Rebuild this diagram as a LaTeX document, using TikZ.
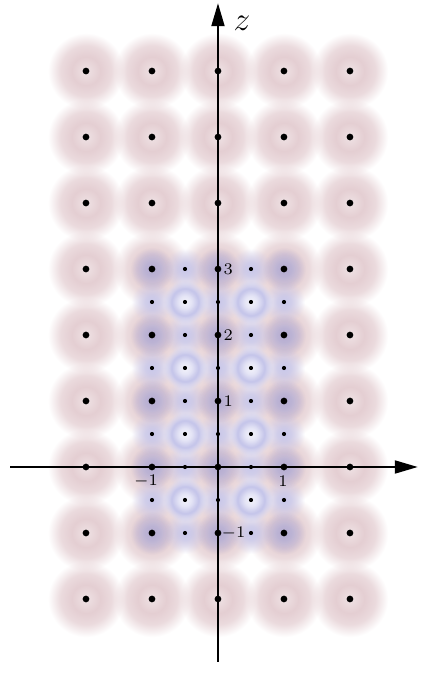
\documentclass[tikz,border=0pt]{standalone}
\usepackage{amsmath}
\usepackage{tikz}
\usetikzlibrary{arrows.meta, fadings}

\definecolor{pinkglow}{RGB}{228,206,210}
\definecolor{blueglow}{RGB}{196,196,234}
\definecolor{mauveglow}{RGB}{160,145,185}

% soft glows (white = opaque, black = clear)
\pgfdeclareradialshading{softdisc}{\pgfpointorigin}{color(0bp)=(white!60!black); color(9bp)=(white); color(16bp)=(white!75!black); color(24bp)=(black); color(50bp)=(black)}
\pgfdeclarefading{softdisc}{\pgfuseshading{softdisc}}
\pgfdeclareradialshading{fulldisc}{\pgfpointorigin}{color(0bp)=(white); color(8bp)=(white!80!black); color(24bp)=(black); color(50bp)=(black)}
\pgfdeclarefading{fulldisc}{\pgfuseshading{fulldisc}}
\pgfdeclareradialshading{ringdisc}{\pgfpointorigin}{color(0bp)=(white!20!black); color(7bp)=(white!45!black); color(15bp)=(white); color(24bp)=(black); color(50bp)=(black)}
\pgfdeclarefading{ringdisc}{\pgfuseshading{ringdisc}}

\begin{document}
\begin{tikzpicture}[
    outerglow/.style={fill=pinkglow, path fading=softdisc},
    innerglow/.style={fill=blueglow, fill opacity=0.9, path fading=fulldisc},
    ringglow/.style={fill=blueglow, path fading=ringdisc},
    siteglow/.style={fill=mauveglow, fill opacity=0.5, path fading=fulldisc},
    axis/.style={line width=1.2pt, -{Triangle[length=10pt, width=5.5pt]}},
    bigdot/.style={circle, fill=black, inner sep=0pt, minimum size=2.9pt},
    smalldot/.style={circle, fill=black, inner sep=0pt, minimum size=1.8pt},
    tick/.style={inner sep=0.5pt, font=\fontsize{7.3}{8}\selectfont}
]
\useasboundingbox (-3.303,-3.182) rectangle (3.076,7.076);

% 1. Glows
\foreach \x in {-2,...,2}
  \foreach \z in {-2,...,6}
    \fill[outerglow] (\x,\z) circle (0.6);

\foreach \i in {-2,0,2}
  \foreach \j in {-2,...,6}
    \fill[innerglow] (\i/2,\j/2) circle (0.33);
\foreach \i in {-1,1}
  \foreach \j in {-2,0,...,6}
    \fill[innerglow] (\i/2,\j/2) circle (0.33);
\foreach \i in {-1,1}
  \foreach \j in {-1,1,...,5}
    \fill[ringglow] (\i/2,\j/2) circle (0.34);
\foreach \x in {-1,0,1}
  \foreach \z in {-1,...,3}
    \fill[siteglow] (\x,\z) circle (0.34);

% 2. Axes
\coordinate (xstart) at (-3.15,0);
\coordinate (xend) at (3.03,0);
\coordinate (zstart) at (0,-2.95);
\coordinate (zend) at (0,7.03);
\draw[axis] (xstart) -- (xend);
\draw[axis] (zstart) -- (zend);

% 3. Lattice sites
\foreach \x in {-2,...,2}
  \foreach \z in {-2,...,6}
    \node[bigdot] (site\x\z) at (\x,\z) {};

\foreach \i in {-2,0,2}
  \foreach \j in {-1,1,...,5}
    \node[smalldot] (half\i\j) at (\i/2,\j/2) {};
\foreach \i in {-1,1}
  \foreach \j in {-2,...,6}
    \node[smalldot] (half\i\j) at (\i/2,\j/2) {};

% 4. Labels
\node[font=\fontsize{14}{16}\selectfont] (zlabel) at (0.364,6.73) {$z$};
\node[tick, anchor=west] (zthree) at (0.06,3) {$3$};
\node[tick, anchor=west] (ztwo) at (0.06,2) {$2$};
\node[tick, anchor=west] (zone) at (0.06,1) {$1$};
\node[tick, anchor=west] (zmone) at (0.03,-1) {$-1$};
\node[tick] (xmone) at (-1.09,-0.21) {$-1$};
\node[tick] (xone) at (0.985,-0.21) {$1$};

\end{tikzpicture}
\end{document}
